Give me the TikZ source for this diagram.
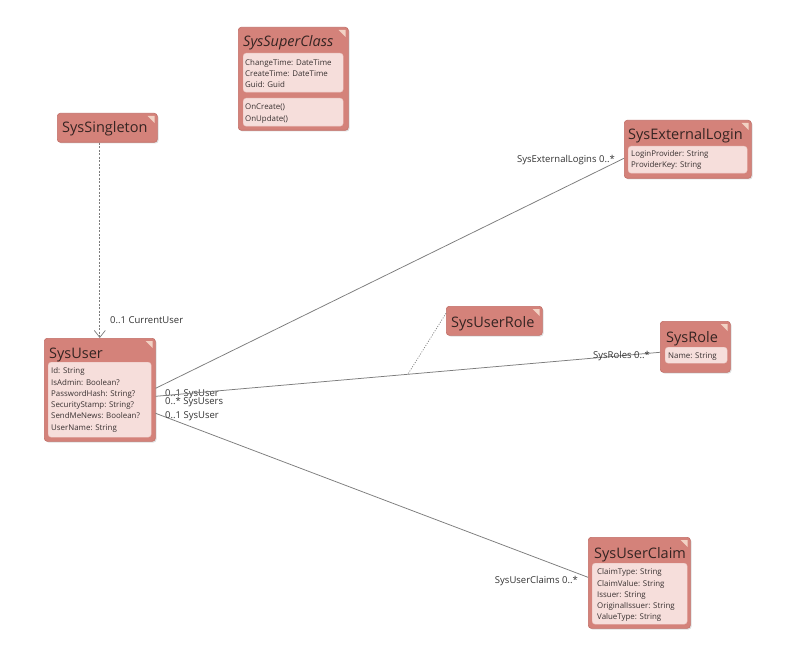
\documentclass[tikz,border=0pt]{standalone}
\usepackage{fontspec}
\setmainfont{Open Sans}
\usetikzlibrary{shadows,arrows.meta,calc}

\definecolor{clsfill}{HTML}{D4827A}
\definecolor{clsdraw}{HTML}{C26E66}
\definecolor{compfill}{HTML}{F6DEDB}
\definecolor{compdraw}{HTML}{EAC4BF}
\definecolor{cornerfill}{HTML}{F2D2C4}
\definecolor{titletext}{HTML}{352422}
\definecolor{attrtext}{HTML}{3A3232}
\definecolor{linecol}{HTML}{7C7C7C}

\tikzset{
  cls/.style={draw=clsdraw, fill=clsfill, rounded corners=3pt, line width=0.6pt,
    anchor=north west, inner sep=0pt,
    drop shadow={opacity=0.25, shadow xshift=1.2pt, shadow yshift=-1.2pt}},
  comp/.style={draw=compdraw, fill=compfill, rounded corners=3pt, line width=0.4pt,
    anchor=north west, inner sep=0pt},
  ttl/.style={anchor=base west, inner sep=0pt, font=\fontsize{14.5}{16}\selectfont, text=titletext},
  attr/.style={anchor=north west, inner sep=0pt, align=left,
    font=\fontsize{7.9}{11.3}\selectfont, text=attrtext},
  corner/.style={fill=cornerfill},
  assoc/.style={draw=linecol, line width=0.75pt},
  lbl/.style={inner sep=0pt, font=\fontsize{9.5}{11}\selectfont, text=black!80},
}
\newcommand\clscorner[1]{%
  \fill[corner] ([xshift=-10pt,yshift=-3pt]#1.north east) -- ([xshift=-3pt,yshift=-3pt]#1.north east)
    -- ([xshift=-3pt,yshift=-10pt]#1.north east) -- cycle;}

\begin{document}
\begin{tikzpicture}[x=1pt,y=-1pt]
\useasboundingbox[fill=white] (0,0) rectangle (800,668);

% ---------- SysSuperClass
\node[cls, minimum width=110, minimum height=103] (super) at (238,27) {};
\clscorner{super}
\node[ttl, font=\fontsize{14.5}{16}\selectfont\itshape] (superT) at (243,47) {SysSuperClass};
\node[comp, minimum width=100, minimum height=39] (superA) at (243,53) {};
\node[attr] (superAt) at (245,59) {ChangeTime: DateTime\\CreateTime: DateTime\\Guid: Guid};
\node[comp, minimum width=100, minimum height=28] (superM) at (243,98) {};
\node[attr] (superMt) at (245,104) {OnCreate()\\OnUpdate()};

% ---------- SysSingleton
\node[cls, minimum width=100, minimum height=29] (single) at (57,113) {};
\clscorner{single}
\node[ttl] (singleT) at (62,133) {SysSingleton};

% ---------- SysExternalLogin
\node[cls, minimum width=127, minimum height=58] (ext) at (624,120) {};
\clscorner{ext}
\node[ttl] (extT) at (628,140) {SysExternalLogin};
\node[comp, minimum width=119, minimum height=27] (extA) at (628,146) {};
\node[attr] (extAt) at (631,150) {LoginProvider: String\\ProviderKey: String};

% ---------- SysUser
\node[cls, minimum width=111, minimum height=103] (user) at (44,338) {};
\clscorner{user}
\node[ttl] (userT) at (49,358) {SysUser};
\node[comp, minimum width=103, minimum height=75] (userA) at (48,362) {};
\node[attr] (userAt) at (51,367.5) {Id: String\\IsAdmin: Boolean?\\PasswordHash: String?\\SecurityStamp: String?\\SendMeNews: Boolean?\\UserName: String};

% ---------- SysUserRole
\node[cls, minimum width=96, minimum height=29] (urole) at (446,306) {};
\clscorner{urole}
\node[ttl] (uroleT) at (451,327) {SysUserRole};

% ---------- SysRole
\node[cls, minimum width=70, minimum height=51] (role) at (660,321) {};
\clscorner{role}
\node[ttl] (roleT) at (666,342) {SysRole};
\node[comp, minimum width=62, minimum height=16] (roleA) at (665,347) {};
\node[attr] (roleAt) at (668,352.5) {Name: String};

% ---------- SysUserClaim
\node[cls, minimum width=102, minimum height=91] (claim) at (588,537) {};
\clscorner{claim}
\node[ttl] (claimT) at (594,558) {SysUserClaim};
\node[comp, minimum width=95, minimum height=61] (claimA) at (592,563) {};
\node[attr] (claimAt) at (597,568.5) {ClaimType: String\\ClaimValue: String\\Issuer: String\\OriginalIssuer: String\\ValueType: String};

% ---------- connectors
\draw[draw=linecol, line width=0.7pt, dash pattern=on 2pt off 1.5pt,
      -{Straight Barb[length=7pt,width=11pt,line width=0.7pt]}]
  (single.south -| user.north) -- (user.north);
\node[lbl, anchor=base west] (cuL) at (110,323) {0..1 CurrentUser};

\draw[assoc] ([yshift=1.5pt]user.east) -- ([yshift=-9pt]ext.west);
\node[lbl, anchor=base east] (extL) at (615,163) {SysExternalLogins 0..*};
\node[lbl, anchor=base west] (u1L) at (165,396) {0..1 SysUser};

\draw[assoc] ([yshift=-6.5pt]user.east) -- ([yshift=-5.5pt]role.west)
  coordinate[pos=0.5] (mid);
\node[lbl, anchor=base west] (u2L) at (165,404) {0..* SysUsers};
\node[lbl, anchor=base west] (roleL) at (593,358) {SysRoles 0..*};
\draw[draw=linecol, line width=0.7pt, dash pattern=on 1pt off 1.5pt]
  ([yshift=7.5pt]urole.west) -- (mid);

\draw[assoc] ([yshift=-23.5pt]user.east) -- ([yshift=5.5pt]claim.west);
\node[lbl, anchor=base west] (u3L) at (165,418) {0..1 SysUser};
\node[lbl, anchor=base east] (claimL) at (578,583) {SysUserClaims 0..*};
\end{tikzpicture}
\end{document}
